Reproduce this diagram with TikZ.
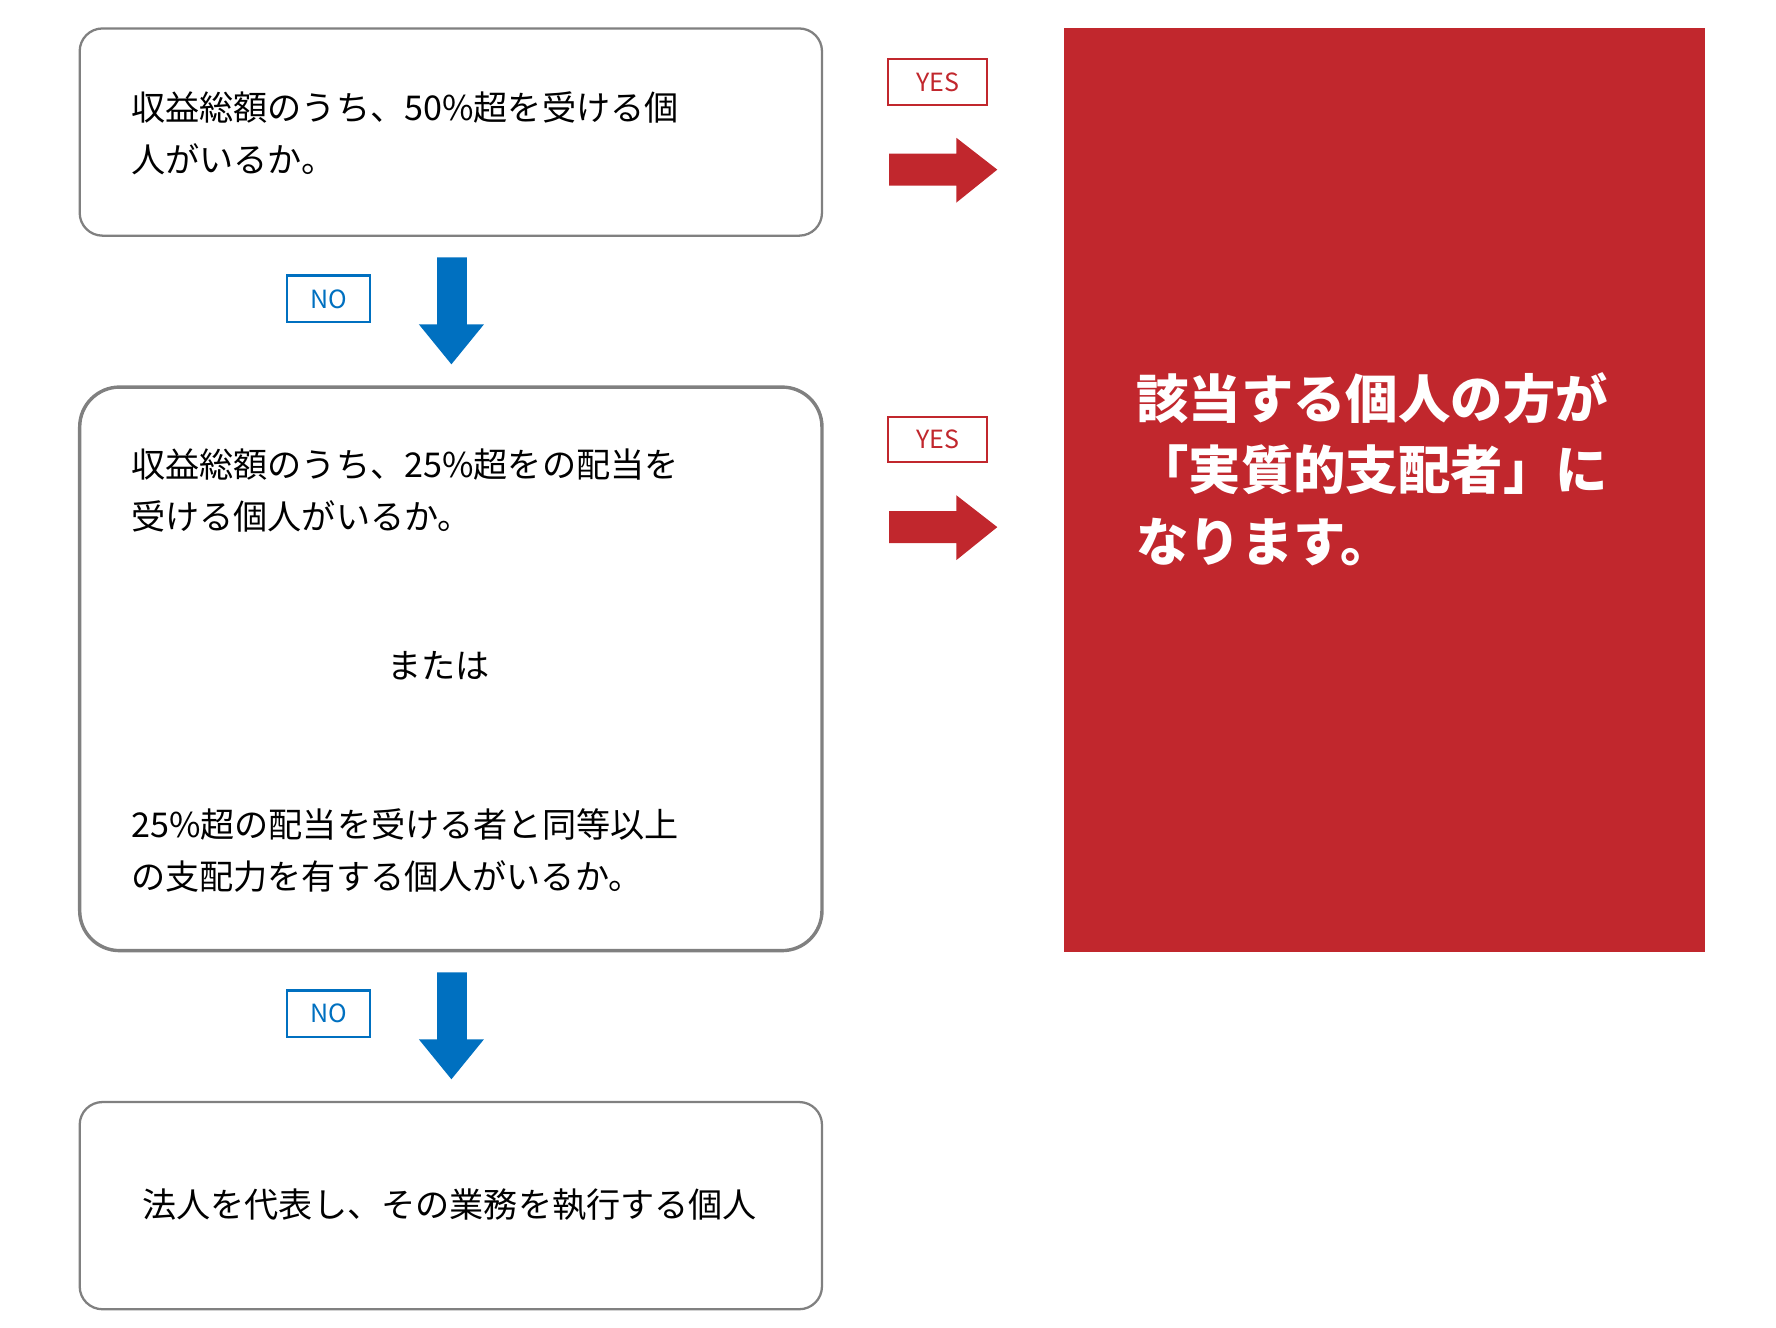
\documentclass[tikz,border=0pt]{standalone}
\usepackage{fontspec}
\setmainfont{Noto Sans CJK JP}
\definecolor{myred}{HTML}{C1272D}
\definecolor{myblue}{HTML}{0070C0}
\definecolor{mygray}{HTML}{808080}
\begin{document}
\begin{tikzpicture}[x=1pt,y=-1pt,
  qbox/.style={draw=mygray,line width=2pt,rounded corners=20pt},
  txt/.style={anchor=west,align=left,font=\fontsize{30}{46}\selectfont,inner sep=0},
  nolab/.style={draw=myblue,line width=2pt,text=myblue,minimum width=73pt,minimum height=41pt,inner sep=0,font=\fontsize{22}{22}\selectfont},
  yeslab/.style={draw=myred,line width=2pt,text=myred,minimum width=87pt,minimum height=40pt,inner sep=0,font=\fontsize{22}{22}\selectfont}]
\useasboundingbox (0,0) rectangle (1560,1166);
\draw[qbox] (70,25) rectangle (722,207);
\draw[qbox,line width=3pt,rounded corners=35pt] (70,340) rectangle (722,835);
\draw[qbox] (70,968) rectangle (722,1150);
\fill[myred] (935,25) rectangle (1498,836);
\node[txt] (t1) at (115,117) {収益総額のうち、50\%超を受ける個\\人がいるか。};
\node[txt] (t2) at (115,431) {収益総額のうち、25\%超をの配当を\\受ける個人がいるか。};
\node[font=\fontsize{30}{46}\selectfont,inner sep=0] (t3) at (385,585) {または};
\node[txt] (t4) at (115,747) {25\%超の配当を受ける者と同等以上\\の支配力を有する個人がいるか。};
\node[font=\fontsize{30}{46}\selectfont,inner sep=0] (t5) at (395,1058) {法人を代表し、その業務を執行する個人};
\node[anchor=west,align=left,text=white,font=\bfseries\fontsize{46}{63}\selectfont,inner sep=0] (r) at (998,412) {該当する個人の方が\\「実質的支配者」に\\なります。};
\node[nolab] (n1) at (288.5,262.5) {NO};
\node[nolab] (n2) at (288.5,890.5) {NO};
\node[yeslab] (y1) at (823.5,72) {YES};
\node[yeslab] (y2) at (823.5,386) {YES};
\fill[myblue] (384,226) -- (410,226) -- (410,285) -- (425,285) -- (396.5,320) -- (368,285) -- (384,285) -- cycle;
\fill[myblue] (384,854) -- (410,854) -- (410,913) -- (425,913) -- (396.5,948) -- (368,913) -- (384,913) -- cycle;
\foreach \c in {149,463}{
\fill[myred] (781,\c-14) -- (840,\c-14) -- (840,\c-28) -- (876,\c) -- (840,\c+29) -- (840,\c+14) -- (781,\c+14) -- cycle;}
\end{tikzpicture}
\end{document}
